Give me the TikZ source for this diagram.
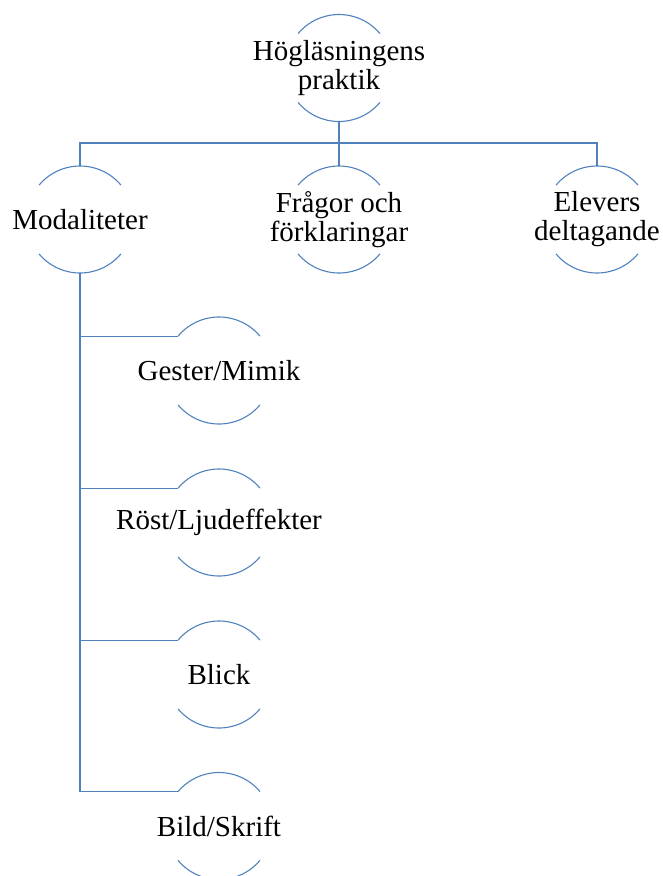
\documentclass[tikz,border=0pt]{standalone}
\usepackage{fontspec}
\setmainfont{Liberation Serif}
\definecolor{lineblue}{RGB}{79,129,189}
\begin{document}
\begin{tikzpicture}[x=1pt,y=1pt,
  ring/.style={circle,minimum size=107pt,inner sep=0pt,outer sep=0pt},
  txt/.style={align=center,inner sep=0pt,font=\fontsize{29}{29}\selectfont},
  conn/.style={draw=lineblue,line width=1.1pt},
  arcs/.style={draw=lineblue,line width=1.1pt}]
\useasboundingbox (0,0) rectangle (662,-876);
% ring nodes
\node[ring] (top) at (339,-68) {};
\node[ring] (mod) at (80,-219.5) {};
\node[ring] (fra) at (339,-219.5) {};
\node[ring] (ele) at (597,-219.5) {};
\node[ring] (ges) at (219,-370.5) {};
\node[ring] (ros) at (219,-522.5) {};
\node[ring] (bli) at (219,-674.5) {};
\node[ring] (bil) at (219,-826) {};
% arcs
\foreach \n in {top,mod,fra,ele,ges,ros,bli,bil}{
  \draw[arcs] (\n.40) arc[start angle=40,end angle=140,radius=53.5pt];
  \draw[arcs] (\n.220) arc[start angle=220,end angle=320,radius=53.5pt];
}
% texts
\node[txt] (ttop) at (top.center) {Högläsningens\\praktik};
\node[txt] (tmod) at (mod.center) {Modaliteter};
\node[txt] (tfra) at (fra.center) {Frågor och\\förklaringar};
\node[txt] (tele) at (ele.center) {Elevers\\deltagande};
\node[txt] (tges) at (ges.center) {Gester/Mimik};
\node[txt] (tros) at (ros.center) {Röst/Ljudeffekter};
\node[txt] (tbli) at (bli.center) {Blick};
\node[txt] (tbil) at (bil.center) {Bild/Skrift};
% connectors
\coordinate (bus) at (339,-143);
\draw[conn] (top.south) -- (bus);
\draw[conn] (mod.north) |- (bus) -| (ele.north);
\draw[conn] (bus) -- (fra.north);
\draw[conn] (mod.south) |- (ges.140);
\draw[conn] (mod.south) |- (ros.140);
\draw[conn] (mod.south) |- (bli.140);
\draw[conn] (mod.south) |- (bil.140);
\end{tikzpicture}
\end{document}
